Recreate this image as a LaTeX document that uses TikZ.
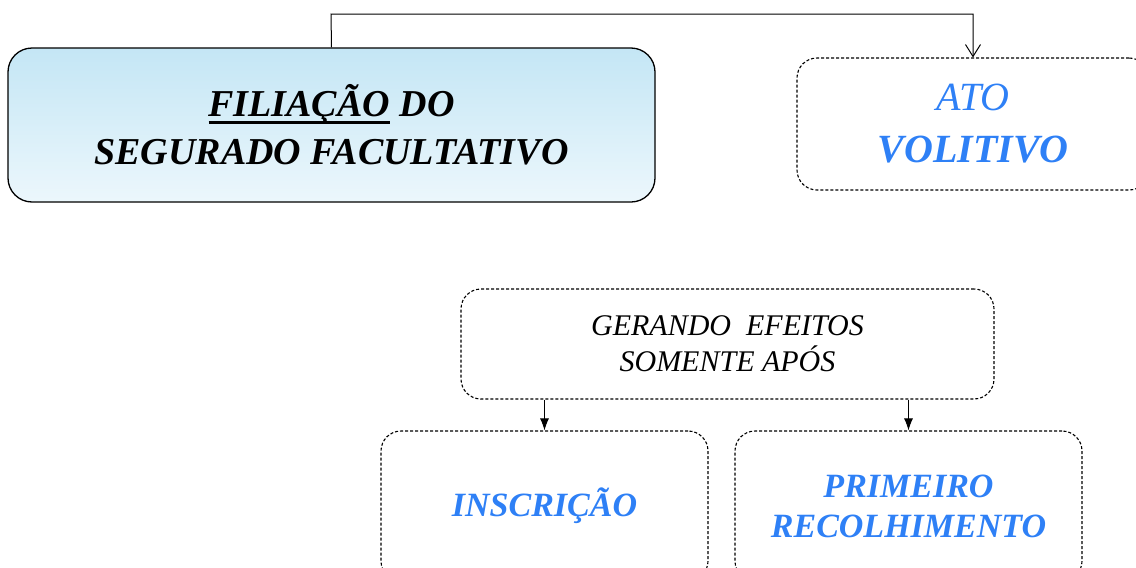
\documentclass[tikz,border=0pt]{standalone}
\usepackage{fontspec}
\setmainfont{Liberation Serif}
\usepackage{tikz}
\usetikzlibrary{arrows.meta, positioning, calc}

\definecolor{azul}{RGB}{46,128,246}
\definecolor{ceutopo}{RGB}{196,230,245}
\definecolor{ceubase}{RGB}{236,247,252}

\newcommand{\grossosub}[1]{\setbox0\hbox{#1}\rlap{\rule[-7pt]{\wd0}{3pt}}\box0}

\tikzset{
    caixa/.style={draw, rounded corners=20pt, dash pattern=on 3pt off 2pt, line width=1.1pt, align=center, inner sep=0pt},
    principal/.style={draw, rounded corners=24pt, line width=1.3pt, align=center, inner sep=0pt,
        top color=ceutopo, bottom color=ceubase},
}

\begin{document}
\begin{tikzpicture}[x=1pt, y=-1pt, >={Latex[length=12pt, width=9pt]}, thick]
        \clip (0,0) rectangle (1136,568);
        \node (filiacao) [principal, minimum width=647pt, minimum height=154pt,
            font=\fontsize{38}{48}\selectfont\bfseries\itshape] at (331.5,125)
            {\grossosub{FILIAÇÃO}\ DO\\SEGURADO FACULTATIVO};
        \node (ato) [caixa, minimum width=352pt, minimum height=132pt, text=azul,
            font=\fontsize{40}{52}\selectfont\itshape] at (973,124)
            {ATO\\\bfseries VOLITIVO};
        \node (gerando) [caixa, minimum width=533pt, minimum height=110pt,
            font=\fontsize{30}{36}\selectfont\itshape] at (727.5,344)
            {GERANDO\ \ EFEITOS\\SOMENTE APÓS};
        \node (inscricao) [caixa, minimum width=327pt, minimum height=150pt, text=azul,
            font=\fontsize{34}{40}\selectfont\bfseries\itshape] at (544.5,506)
            {INSCRIÇÃO};
        \node (primeiro) [caixa, minimum width=347pt, minimum height=150pt, text=azul,
            font=\fontsize{34}{40}\selectfont\bfseries\itshape] at (908.5,506)
            {PRIMEIRO\\RECOLHIMENTO};
        \coordinate (volta) at (331,14);

        \draw[-{Straight Barb[length=12pt, width=15pt]}, line width=1pt] (filiacao.north) -- (volta) -| (ato.north);
        \draw[->, line width=1pt] (inscricao.north |- gerando.south) -- (inscricao.north);
        \draw[->, line width=1pt] (primeiro.north |- gerando.south) -- (primeiro.north);
    \end{tikzpicture}
\end{document}
